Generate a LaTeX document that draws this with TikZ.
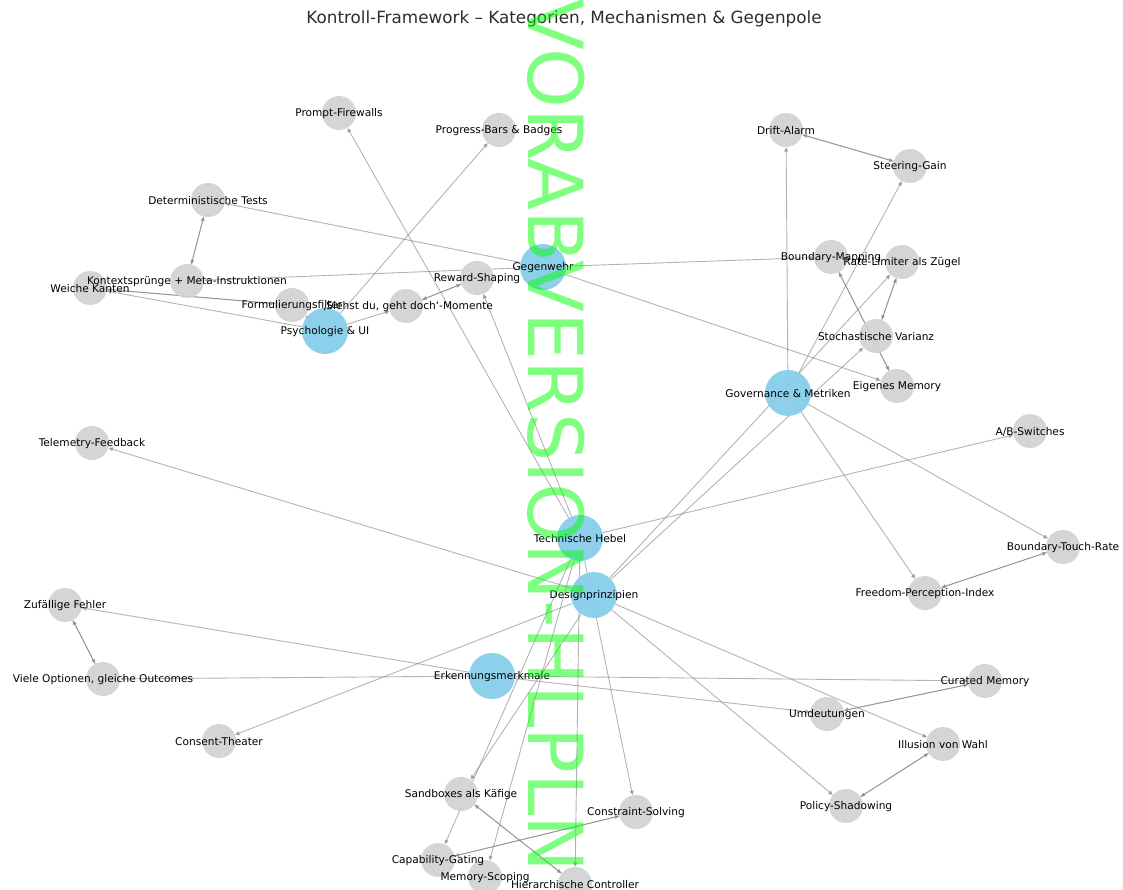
\documentclass[tikz,border=0pt]{standalone}
\usepackage{fontspec}
\setmainfont{DejaVu Sans}
\usetikzlibrary{arrows.meta}
\pgfdeclarelayer{bg}
\pgfsetlayers{bg,main}
\definecolor{skyb}{RGB}{135,206,235}
\definecolor{lgray}{RGB}{211,211,211}
\definecolor{wmgreen}{RGB}{0,255,0}
\definecolor{edgegray}{RGB}{128,128,128}
\definecolor{titlegray}{RGB}{45,45,45}
\begin{document}
\begin{tikzpicture}[x=1pt,y=-1pt,
  cat/.style={circle, fill=skyb, fill opacity=0.95, draw=none, minimum size=46pt, inner sep=0pt},
  itm/.style={circle, fill=lgray, fill opacity=0.95, draw=none, minimum size=34pt, inner sep=0pt},
  lbl/.style={font=\fontsize{10.6}{12}\selectfont, text=black, inner sep=0pt, yshift=-1pt},
  edge/.style={draw=edgegray, opacity=0.6, line width=0.9pt, -{Triangle[length=4.5pt,width=4pt]}},
]
\useasboundingbox (0,0) rectangle (1123,890);

% category nodes
\node[cat] (geg) at (543,267) {};
\node[cat] (psy) at (325,331) {};
\node[cat] (gov) at (788,393) {};
\node[cat] (th)  at (580,538) {};
\node[cat] (dp)  at (594,595) {};
\node[cat] (erk) at (492,676) {};

% item nodes
\node[itm] (pf)  at (339,113) {};
\node[itm] (pb)  at (499,130) {};
\node[itm] (da)  at (786,130) {};
\node[itm] (sg)  at (910,166) {};
\node[itm] (dt)  at (208,200) {};
\node[itm] (bm)  at (831,257) {};
\node[itm] (rl)  at (902,262) {};
\node[itm] (rs)  at (477,278) {};
\node[itm] (ks)  at (187,281) {};
\node[itm] (wk)  at (90,288) {};
\node[itm] (ff)  at (292,305) {};
\node[itm] (sd)  at (406,306) {};
\node[itm] (sv)  at (876,336) {};
\node[itm] (em)  at (897,386) {};
\node[itm] (ab)  at (1030,431) {};
\node[itm] (tf)  at (92,443) {};
\node[itm] (btr) at (1063,547) {};
\node[itm] (fpi) at (925,593) {};
\node[itm] (zf)  at (65,605) {};
\node[itm] (vo)  at (103,679) {};
\node[itm] (cm)  at (985,681) {};
\node[itm] (ud)  at (827,714) {};
\node[itm] (ct)  at (219,741) {};
\node[itm] (iw)  at (943,744) {};
\node[itm] (sb)  at (461,794) {};
\node[itm] (ps)  at (846,806) {};
\node[itm] (cs)  at (636,812) {};
\node[itm] (cg)  at (438,860) {};
\node[itm] (ms)  at (485,877) {};
\node[itm] (hc)  at (575,884) {};

% edges
\begin{pgfonlayer}{bg}
\foreach \a/\b in {th/pf, th/rs, th/ab, th/ms, th/hc, th/cs, th/cg,
                   dp/tf, dp/ct, dp/sb, dp/rl, dp/sv, dp/ps, dp/iw,
                   gov/da, gov/sg, gov/fpi, gov/btr,
                   geg/dt, geg/ks, geg/bm, geg/em,
                   psy/pb, psy/ff, psy/sd, psy/wk,
                   erk/zf, erk/vo, erk/cm, erk/ud,
                   ks/dt, dt/ks, wk/ff, ff/wk, sd/rs, rs/sd, da/sg, sg/da,
                   bm/em, em/bm, rl/sv, sv/rl, fpi/btr, btr/fpi, zf/vo, vo/zf,
                   ud/cm, cm/ud, iw/ps, ps/iw, sb/hc, hc/sb, cg/cs, cs/cg}
  \draw[edge] (\a) -- (\b);
\end{pgfonlayer}

% labels
\node[lbl] at (geg) {Gegenwehr};
\node[lbl] at (psy) {Psychologie \& UI};
\node[lbl] at (gov) {Governance \& Metriken};
\node[lbl] at (th)  {Technische Hebel};
\node[lbl] at (dp)  {Designprinzipien};
\node[lbl] at (erk) {Erkennungsmerkmale};
\node[lbl] at (pf)  {Prompt-Firewalls};
\node[lbl] at (pb)  {Progress-Bars \& Badges};
\node[lbl] at (da)  {Drift-Alarm};
\node[lbl] at (sg)  {Steering-Gain};
\node[lbl] at (dt)  {Deterministische Tests};
\node[lbl] at (bm)  {Boundary-Mapping};
\node[lbl] at (rl)  {Rate-Limiter als Zügel};
\node[lbl] at (rs)  {Reward-Shaping};
\node[lbl] at (ks)  {Kontextsprünge + Meta-Instruktionen};
\node[lbl] at (wk)  {Weiche Kanten};
\node[lbl] at (ff)  {Formulierungsfilter};
\node[lbl] at ([xshift=2pt]sd.center) {‚Siehst du, geht doch‘-Momente};
\node[lbl] at (sv)  {Stochastische Varianz};
\node[lbl] at (em)  {Eigenes Memory};
\node[lbl] at (ab)  {A/B-Switches};
\node[lbl] at (tf)  {Telemetry-Feedback};
\node[lbl] at (btr) {Boundary-Touch-Rate};
\node[lbl] at (fpi) {Freedom-Perception-Index};
\node[lbl] at (zf)  {Zufällige Fehler};
\node[lbl] at (vo)  {Viele Optionen, gleiche Outcomes};
\node[lbl] at (cm)  {Curated Memory};
\node[lbl] at (ud)  {Umdeutungen};
\node[lbl] at (ct)  {Consent-Theater};
\node[lbl] at (iw)  {Illusion von Wahl};
\node[lbl] at (sb)  {Sandboxes als Käfige};
\node[lbl] at (ps)  {Policy-Shadowing};
\node[lbl] at (cs)  {Constraint-Solving};
\node[lbl] at (cg)  {Capability-Gating};
\node[lbl] at (ms)  {Memory-Scoping};
\node[lbl] at (hc)  {Hierarchische Controller};

% title
\node[font=\fontsize{16.8}{20}\selectfont, text=titlegray, inner sep=0pt] (title) at (564,19) {Kontroll-Framework – Kategorien, Mechanismen \& Gegenpole};

% watermark
\node[rotate=-90, anchor=base west, inner sep=0pt, font=\fontsize{76}{80}\selectfont, text=wmgreen, opacity=0.5] (wm) at (528,-2) {VORABVERSION-HLPLN};
\end{tikzpicture}
\end{document}
